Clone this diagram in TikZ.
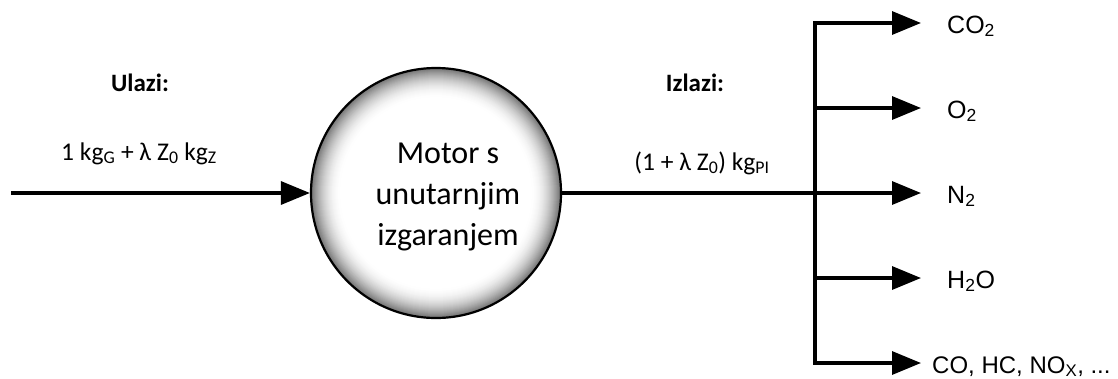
\documentclass[tikz,border=0pt]{standalone}
\usepackage{fontspec}
\setmainfont{Carlito}
\newfontfamily\arialf{Liberation Sans}
\usetikzlibrary{arrows.meta}
\tikzset{
  flow/.style={line width=3.3pt, -{Triangle[length=29pt,width=23pt]}},
  lbl/.style={font=\fontsize{25.5}{30}\selectfont, inner sep=0pt, anchor=base},
  hdr/.style={font=\fontsize{25}{30}\selectfont\bfseries, inner sep=0pt},
  outl/.style={font=\arialf\fontsize{25}{30}\selectfont, anchor=base west, inner sep=0pt},
  engine/.style={circle, draw, line width=2.2pt, minimum size=250pt},
  engtxt/.style={font=\fontsize{32}{41}\selectfont, align=center, inner sep=0pt}
}
\begin{document}
\begin{tikzpicture}[x=1pt,y=-1pt]
\useasboundingbox (0,0) rectangle (1118,378);
\fill[white] (0,0) rectangle (1118,378);
\foreach \i in {0,...,30}{
  \pgfmathsetmacro{\shadeval}{55*(1-\i/30)^2}
  \fill[black!\shadeval!white] (436,193) circle[radius=125-\i];
}
\node[engine] (m) at (436,193) {};
\node[engtxt] (mt) at (448,197) {Motor s\\unutarnjim\\izgaranjem};
\coordinate (in) at (11,193);
\draw[flow] (in) -- (m.west);
\node[hdr] (ul) at (140,83) {Ulazi:};
\node[lbl] (fin) at (139,160) {1 kg\textsubscript{G} + λ Z\textsubscript{0} kg\textsubscript{Z}};
\node[hdr] (iz) at (695,83) {Izlazi:};
\node[lbl] (fout) at (702,170) {(1 + λ Z\textsubscript{0}) kg\textsubscript{PI}};
\coordinate (t1) at (815,23);
\coordinate (j2) at (815,108);
\coordinate (j4) at (815,278);
\coordinate (b5) at (815,363);
\coordinate (a1) at (921,23);
\coordinate (a2) at (921,108);
\coordinate (a3) at (921,193);
\coordinate (a4) at (921,278);
\coordinate (a5) at (921,363);
\draw[flow] (b5) -- (t1) -- (a1);
\draw[flow] (t1) -- (b5) -- (a5);
\draw[flow] (j2) -- (a2);
\draw[flow] (m.east) -- (a3);
\draw[flow] (j4) -- (a4);
\node[outl] (o1) at (947,33) {CO\textsubscript{2}};
\node[outl] (o2) at (947,118) {O\textsubscript{2}};
\node[outl] (o3) at (947,203) {N\textsubscript{2}};
\node[outl] (o4) at (947,288) {H\textsubscript{2}O};
\node[outl, font=\arialf\fontsize{24}{30}\selectfont] (o5) at (932,373) {CO, HC, NO\textsubscript{X}, ...};
\end{tikzpicture}
\end{document}
